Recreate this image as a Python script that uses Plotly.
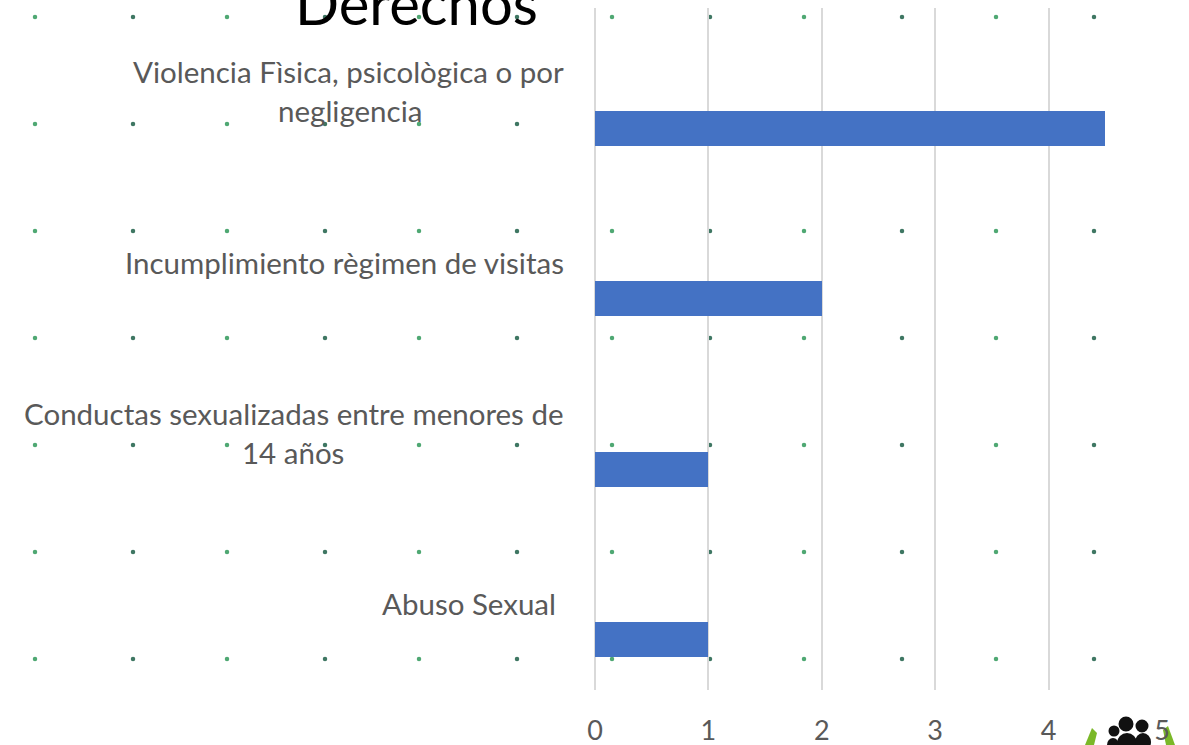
import plotly.graph_objects as go

categories = ["Abuso Sexual", "Conductas sexualizadas entre menores de 14 años",
              "Incumplimiento règimen de visitas", "Violencia Fìsica, psicològica o por negligencia"]
values = [1, 1, 2, 4.5]
label_lines = [["Abuso Sexual"], ["Conductas sexualizadas entre menores de", "14 años"],
               ["Incumplimiento règimen de visitas"], ["Violencia Fìsica, psicològica o por", "negligencia"]]
title_text = "Derechos"
x_ticks = [0, 1, 2, 3, 4, 5]

# decorative dotted background of the slide, in page pixels
dot_cols = [35, 133, 227, 325, 419, 517, 612, 710, 804, 902, 996, 1094]
dot_rows = [17, 124, 231, 338, 445, 552, 659]
dot_cols_colors = ["#4fa873", "#3f7763", "#4fa873", "#3f7763", "#4fa873", "#3f7763",
                   "#4fa873", "#3f7763", "#4fa873", "#3f7763", "#4fa873", "#3f7763"]

FONT = "Lato, Carlito, Calibri, sans-serif"
GREY = "#595959"
W, H = 1189, 745

fig = go.Figure()
dx, dy, dc = [], [], []
for r in dot_rows:
    for c, col in zip(dot_cols, dot_cols_colors):
        dx.append(c); dy.append(r); dc.append(col)
fig.add_trace(go.Scatter(x=dx, y=dy, mode="markers", xaxis="x", yaxis="y", hoverinfo="skip",
                         marker=dict(size=4.5, color=dc, line=dict(width=0)), showlegend=False))
fig.add_trace(go.Bar(y=categories, x=values, orientation="h", xaxis="x2", yaxis="y2",
                     marker=dict(color="#4472c4", line=dict(width=0)),
                     width=0.205, offset=-0.308, showlegend=False))

shapes = []
# logo fragment at the bottom right
for path in ["M1085,745 L1092,728 L1097,733 L1094,745 Z", "M1175,745 L1168,726 L1163,730 L1166,745 Z"]:
    shapes.append(dict(type="path", xref="x", yref="y", path=path, fillcolor="#7ab828", line=dict(width=0), layer="below"))
for cx, cy, rx, ry in [(1126, 724, 7.5, 7.5), (1142, 726, 6.5, 6.5), (1114, 731, 5.5, 5.5),
                       (1127, 743, 10, 10), (1143, 742, 8, 9), (1113, 745, 6, 7)]:
    shapes.append(dict(type="circle", xref="x", yref="y", x0=cx-rx, x1=cx+rx, y0=cy-ry, y1=cy+ry,
                       fillcolor="#111111", line=dict(width=0), layer="below"))

anns = [dict(text=title_text, xref="x", yref="y", x=416, y=2, showarrow=False,
             font=dict(family=FONT, size=58, color="#000000"), xanchor="center", yanchor="middle")]
positions = [[(558, 603)], [(566, 413), (293, 452)], [(566, 262)], [(566, 71), (350, 110)]]
for lines, pos in zip(label_lines, positions):
    for i, (t, (px, py)) in enumerate(zip(lines, pos)):
        anns.append(dict(text=t, xref="x", yref="y", x=px, y=py, showarrow=False,
                         xanchor="right" if i == 0 else "center", yanchor="middle",
                         font=dict(family=FONT, size=29.5, color=GREY)))

fig.update_layout(
    width=W, height=H, margin=dict(l=0, r=0, t=0, b=0),
    paper_bgcolor="white", plot_bgcolor="rgba(0,0,0,0)", bargap=0,
    font=dict(family=FONT, color=GREY),
    xaxis=dict(domain=[0, 1], range=[0, W], visible=False, fixedrange=True),
    yaxis=dict(domain=[0, 1], range=[H, 0], visible=False, fixedrange=True),
    xaxis2=dict(domain=[595/W, 1162/W], range=[0, 5], anchor="y2", side="bottom",
                tickvals=x_ticks, showgrid=True, gridcolor="#d9d9d9", gridwidth=2, zeroline=True,
                zerolinecolor="#d9d9d9", zerolinewidth=2, showline=False, ticks="",
                ticklabelstandoff=22, tickfont=dict(family=FONT, size=27, color=GREY), automargin=False),
    yaxis2=dict(domain=[1-690/H, 1-8/H], anchor="x2", type="category",
                categoryorder="array", categoryarray=categories, showticklabels=False,
                showgrid=False, zeroline=False, showline=False, ticks="", range=[-0.5, 3.5], automargin=False),
    shapes=shapes, annotations=anns,
)
fig.write_html("out.html", config=dict(displayModeBar=False),
               post_script="document.body.style.margin='0';document.body.style.overflow='hidden';")
